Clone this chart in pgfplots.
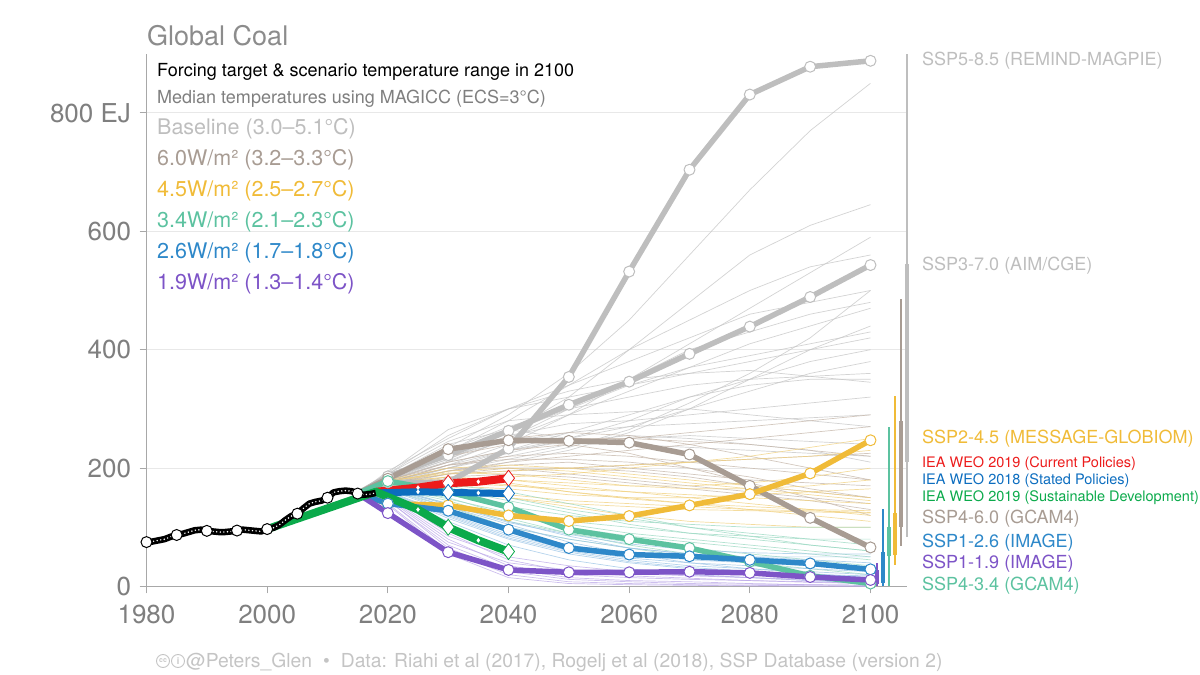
\documentclass[border=0pt]{standalone}
\usepackage{pgfplots}
\usepackage{pgfplotstable}
\pgfplotsset{compat=1.18}
\usepackage{fontspec}
\setmainfont{TeX Gyre Heros}

\definecolor{cgray}{HTML}{BEBEBE}
\definecolor{cbrown}{HTML}{A89C93}
\definecolor{cyellow}{HTML}{F0BB38}
\definecolor{cteal}{HTML}{5CC2A0}
\definecolor{cblue}{HTML}{2E88C9}
\definecolor{cpurple}{HTML}{7D54C7}
\definecolor{ired}{HTML}{EC1B1B}
\definecolor{iblue}{HTML}{0C6DBF}
\definecolor{igreen}{HTML}{0BAA4B}
\definecolor{axgray}{HTML}{A8A8A8}
\definecolor{txgray}{HTML}{7F7F7F}
\definecolor{ftgray}{HTML}{C4C4C4}
\definecolor{bggray}{HTML}{C4C4C4}
\definecolor{bgtan}{HTML}{C4B5A8}
\definecolor{bgyellow}{HTML}{F0D07E}
\definecolor{bgteal}{HTML}{9AD8C2}
\definecolor{bgblue}{HTML}{9CC5E6}
\definecolor{bgpurple}{HTML}{BCA9E8}

% background scenario lines: baseline (grey)
\pgfplotstableread{
year g1 g2 g3 g4 g5 g6 g7 g8 g9 g10 g11 g12 g13 g14 g15 g16 g17 g18 g19 g20 g21 g22
2015 156 155 157 154 156 158 155 154 156 157 155 156 153 157 156 155 156 154 155 157 156 154
2020 188 182 195 175 178 192 185 172 180 190 176 183 170 186 188 178 181 174 184 190 179 176
2030 235 215 250 205 210 265 230 200 215 245 205 220 190 240 225 200 210 195 228 255 212 200
2040 290 260 300 240 250 300 270 230 255 280 230 245 210 265 260 220 230 215 280 300 250 225
2050 360 320 340 290 290 320 300 260 275 290 250 260 230 250 300 240 245 235 340 330 300 250
2060 450 400 380 350 330 340 320 290 280 295 270 270 260 240 350 250 255 265 400 350 340 280
2070 560 480 420 410 370 360 340 320 290 300 300 275 300 235 400 255 250 310 450 360 370 320
2080 670 560 460 470 410 380 350 350 300 290 330 280 350 230 430 250 240 360 500 365 390 340
2090 770 610 480 530 440 400 355 380 310 280 360 285 400 225 460 245 230 420 540 355 410 350
2100 850 645 500 590 470 420 360 400 320 270 380 290 440 220 480 240 210 500 560 345 430 350
}\tblG
% 6.0 W/m2 (tan)
\pgfplotstableread{
year t1 t2 t3 t4 t5 t6 t7 t8 t9 t10 t11 t12
2015 156 155 157 154 156 155 157 154 156 155 156 154
2020 180 176 182 172 178 175 184 170 179 177 180 173
2030 220 205 225 195 200 190 230 185 210 195 205 190
2040 240 220 250 210 200 195 245 190 230 205 215 200
2050 250 225 260 220 190 200 240 185 240 210 215 200
2060 250 220 255 230 180 205 225 175 250 200 210 195
2070 245 210 240 240 170 210 200 165 260 190 200 185
2080 240 200 220 250 160 215 175 155 270 180 185 170
2090 230 190 200 260 150 220 150 145 280 175 165 160
2100 220 180 180 270 140 225 120 130 290 170 150 150
}\tblT
% 4.5 W/m2 (yellow)
\pgfplotstableread{
year y1 y2 y3 y4 y5 y6 y7 y8 y9 y10 y11 y12 y13 y14
2015 155 156 157 154 156 155 156 154 157 155 156 154 155 157
2020 175 170 178 168 180 172 176 165 174 170 177 167 171 179
2030 185 175 190 165 200 180 185 160 182 170 195 163 178 192
2040 180 170 195 155 205 185 175 150 180 165 200 150 172 190
2050 170 165 200 145 200 190 160 140 175 155 195 135 160 180
2060 160 160 205 140 190 200 150 135 170 150 185 120 148 170
2070 150 155 210 135 180 210 140 130 170 150 175 110 140 165
2080 140 150 220 130 170 215 130 128 175 155 165 105 135 165
2090 130 145 235 128 160 220 120 126 185 160 155 100 130 170
2100 120 140 250 125 150 230 110 124 200 165 145 100 128 180
}\tblY
% 3.4 W/m2 (teal)
\pgfplotstableread{
year c1 c2 c3 c4 c5 c6 c7 c8 c9 c10
2015 155 156 154 157 155 156 154 157 155 156
2020 172 168 175 165 170 173 163 176 169 166
2030 160 150 170 140 155 165 135 172 148 145
2040 130 120 150 110 135 145 100 160 125 115
2050 105 100 130 90 120 125 80 140 110 90
2060 90 85 115 75 110 105 65 120 100 70
2070 80 75 100 65 105 90 50 100 90 55
2080 70 65 90 55 100 80 40 85 85 45
2090 60 55 80 45 100 70 30 70 80 35
2100 50 45 70 35 100 60 20 60 80 30
}\tblC
% 2.6 W/m2 (blue)
\pgfplotstableread{
year b1 b2 b3 b4 b5 b6 b7 b8 b9 b10
2015 155 156 154 157 155 156 154 157 155 156
2020 165 160 168 158 163 166 155 167 161 159
2030 130 120 140 115 128 135 110 138 122 118
2040 95 85 110 80 100 105 70 108 88 82
2050 70 60 85 55 80 75 45 88 62 58
2060 55 45 65 40 65 55 30 72 48 42
2070 45 35 55 30 55 40 20 62 40 32
2080 40 30 50 25 50 30 15 57 35 26
2090 35 25 45 20 50 22 10 55 30 20
2100 30 20 40 15 50 15 5 55 25 18
}\tblB
% 1.9 W/m2 (purple)
\pgfplotstableread{
year p1 p2 p3 p4 p5 p6 p7 p8
2015 155 156 154 157 155 156 154 157
2020 150 145 155 140 148 152 138 146
2030 80 70 90 60 75 85 55 65
2040 35 30 45 20 40 50 15 25
2050 20 15 25 8 28 35 5 12
2060 15 10 18 5 22 25 3 8
2070 12 8 14 3 18 20 2 5
2080 10 5 10 2 15 15 1 4
2090 8 3 7 1 12 10 1 3
2100 5 2 5 1 10 8 0 2
}\tblP
% marker scenarios
\pgfplotstableread{
year ssp5 ssp3 ssp460 ssp245 ssp434 ssp126 ssp119
2015 157 157 157 157 157 157 157
2020 176 186 182 140 178 140 124
2030 176 222 232 137 160 128 58
2040 233 263 247 120 134 96 28
2050 354 307 246 110.5 96 65 24
2060 532 346 243 119 80 54 24
2070 704 393 223 137 65 51 25
2080 831 439 170 156 42 45 23
2090 878 489 116 191 18 39 16
2100 888 543 66 247 5 29 11
}\tblSSP
% IEA WEO
\pgfplotstableread{
year cps steps
2018 160 158
2025 167 160
2030 174.5 159
2035 177 158
2040 183 157
}\tblIEA
\pgfplotstableread{
year sds
2000 97
2018 160
2025 130
2030 100
2035 78
2040 59
}\tblSDS
% history
\pgfplotstableread{
year coal
1980 75
1981 76
1982 78
1983 80
1984 84
1985 87
1986 89
1987 92
1988 95
1989 96
1990 94
1991 93
1992 92
1993 92
1994 93
1995 94.5
1996 96
1997 95
1998 94
1999 93
2000 97
2001 99
2002 104
2003 112
2004 119
2005 123
2006 132
2007 140
2008 143
2009 145
2010 150
2011 159
2012 161
2013 162
2014 161
2015 157
2016 155
2017 156
2018 158
}\tblH

\begin{document}
\begin{tikzpicture}
\path[use as bounding box] (0pt,0pt) rectangle (1200pt,675pt);
\begin{axis}[
  at={(146.5pt,88.5pt)}, anchor=south west, scale only axis,
  width=760.2pt, height=532.8pt,
  xmin=1980, xmax=2106, ymin=0, ymax=900,
  axis x line*=bottom, axis y line*=left,
  axis line style={axgray, line width=1.3pt},
  xtick={1980,2000,2020,2040,2060,2080,2100},
  xticklabels={1980,2000,2020,2040,2060,2080,2100},
  ytick={0,200,400,600,800},
  yticklabels={0,200,400,600,800 EJ},
  tick align=outside, major tick length=7pt,
  tick style={axgray, line width=1pt},
  ymajorgrids, grid style={black!9, line width=0.8pt},
  ticklabel style={font=\fontsize{26}{30}\selectfont, text=txgray},
  xticklabel style={yshift=-8pt},
  yticklabel style={xshift=-5pt},
  /pgf/number format/assume math mode=true,
  clip=false,
  bgline/.style={line width=0.7pt, opacity=0.75, line join=round},
  ssp/.style={line width=5.5pt, line join=round, mark=*, mark size=5.5pt,
     mark indices={2,3,4,5,6,7,8,9,10}},
]
% background fans
\pgfplotsinvokeforeach{g1,g2,g3,g4,g5,g6,g7,g8,g9,g10,g11,g12,g13,g14,g15,g16,g17,g18,g19,g20,g21,g22}{
  \addplot[bgline, draw=bggray] table[x=year,y=#1]{\tblG};}
\pgfplotsinvokeforeach{t1,t2,t3,t4,t5,t6,t7,t8,t9,t10,t11,t12}{
  \addplot[bgline, draw=bgtan] table[x=year,y=#1]{\tblT};}
\pgfplotsinvokeforeach{y1,y2,y3,y4,y5,y6,y7,y8,y9,y10,y11,y12,y13,y14}{
  \addplot[bgline, draw=bgyellow] table[x=year,y=#1]{\tblY};}
\pgfplotsinvokeforeach{c1,c2,c3,c4,c5,c6,c7,c8,c9,c10}{
  \addplot[bgline, draw=bgteal] table[x=year,y=#1]{\tblC};}
\pgfplotsinvokeforeach{b1,b2,b3,b4,b5,b6,b7,b8,b9,b10}{
  \addplot[bgline, draw=bgblue] table[x=year,y=#1]{\tblB};}
\pgfplotsinvokeforeach{p1,p2,p3,p4,p5,p6,p7,p8}{
  \addplot[bgline, draw=bgpurple] table[x=year,y=#1]{\tblP};}

% range bars in 2100
\addplot[cpurple, line width=2pt] coordinates {(2101,0) (2101,40)};
\addplot[cpurple, line width=4pt] coordinates {(2101,4) (2101,28)};
\addplot[cblue, line width=2pt] coordinates {(2102,0) (2102,131)};
\addplot[cblue, line width=4pt] coordinates {(2102,6) (2102,59)};
\addplot[cteal, line width=2pt] coordinates {(2103,0) (2103,270)};
\addplot[cteal, line width=4pt] coordinates {(2103,51) (2103,101)};
\addplot[cyellow, line width=2pt] coordinates {(2104,37) (2104,321)};
\addplot[cyellow, line width=4pt] coordinates {(2104,53) (2104,124)};
\addplot[cbrown, line width=2pt] coordinates {(2105,68) (2105,486)};
\addplot[cbrown, line width=4pt] coordinates {(2105,101) (2105,279)};
\addplot[cgray, line width=2pt] coordinates {(2106,84) (2106,900)};
\addplot[cgray, line width=4pt] coordinates {(2106,211) (2106,544)};

% marker scenarios
\addplot[ssp, cgray, mark options={fill=white, draw=cgray, line width=1pt}] table[x=year,y=ssp5]{\tblSSP};
\addplot[ssp, cgray, mark options={fill=white, draw=cgray, line width=1pt}] table[x=year,y=ssp3]{\tblSSP};
\addplot[ssp, cbrown, mark options={fill=white, draw=cbrown, line width=1pt}] table[x=year,y=ssp460]{\tblSSP};
\addplot[ssp, cteal, mark options={fill=white, draw=cteal, line width=1pt}] table[x=year,y=ssp434]{\tblSSP};
\addplot[ssp, cyellow, mark options={fill=white, draw=cyellow, line width=1pt}] table[x=year,y=ssp245]{\tblSSP};
\addplot[ssp, cblue, mark options={fill=white, draw=cblue, line width=1pt}] table[x=year,y=ssp126]{\tblSSP};
\addplot[ssp, cpurple, mark options={fill=white, draw=cpurple, line width=1pt}] table[x=year,y=ssp119]{\tblSSP};

% IEA
\addplot[ired, line width=8pt, line join=round, mark=diamond*, mark size=8pt, mark indices={3,5},
  mark options={fill=white, draw=ired, line width=0.8pt}] table[x=year,y=cps]{\tblIEA};
\addplot[only marks, mark=diamond*, mark size=2pt, mark indices={2,4},
  mark options={fill=white, draw=white}] table[x=year,y=cps]{\tblIEA};
\addplot[iblue, line width=7pt, line join=round, mark=diamond*, mark size=8pt, mark indices={3,5},
  mark options={fill=white, draw=iblue, line width=0.8pt}] table[x=year,y=steps]{\tblIEA};
\addplot[only marks, mark=diamond*, mark size=2pt, mark indices={2,4},
  mark options={fill=white, draw=white}] table[x=year,y=steps]{\tblIEA};
\addplot[igreen, line width=8pt, line join=round, mark=diamond*, mark size=8pt, mark indices={4,6},
  mark options={fill=white, draw=igreen, line width=0.8pt}] table[x=year,y=sds]{\tblSDS};
\addplot[only marks, mark=diamond*, mark size=2pt, mark indices={3,5},
  mark options={fill=white, draw=white}] table[x=year,y=sds]{\tblSDS};

% history
\addplot[black, line width=6.5pt, line join=round] table[x=year,y=coal]{\tblH};
\addplot[white, line width=1.6pt, line cap=round, dash pattern=on 0pt off 3.6pt] table[x=year,y=coal]{\tblH};
\addplot[only marks, mark=*, mark size=5.5pt, mark indices={1,6,11,16,21,26,31,36},
  mark options={fill=white, draw=black, line width=1pt}] table[x=year,y=coal]{\tblH};
\end{axis}

% title and legend text
\node[anchor=base west, inner sep=0, text=txgray!90, font=\fontsize{27}{30}\selectfont] at (147pt,629pt) {Global Coal};
\node[anchor=base west, inner sep=0, text=black, font=\fontsize{18}{21}\selectfont] at (157pt,598pt) {Forcing target \& scenario temperature range in 2100};
\node[anchor=base west, inner sep=0, text=txgray, font=\fontsize{18}{21}\selectfont] at (157pt,571pt) {Median temperatures using MAGICC (ECS=3°C)};
\node[anchor=base west, inner sep=0, text=cgray, font=\fontsize{21.5}{24}\selectfont] at (157pt,540pt) {Baseline (3.0–5.1°C)};
\node[anchor=base west, inner sep=0, text=cbrown, font=\fontsize{21.5}{24}\selectfont] at (157pt,509pt) {6.0W/m² (3.2–3.3°C)};
\node[anchor=base west, inner sep=0, text=cyellow, font=\fontsize{21.5}{24}\selectfont] at (157pt,478pt) {4.5W/m² (2.5–2.7°C)};
\node[anchor=base west, inner sep=0, text=cteal, font=\fontsize{21.5}{24}\selectfont] at (157pt,447pt) {3.4W/m² (2.1–2.3°C)};
\node[anchor=base west, inner sep=0, text=cblue, font=\fontsize{21.5}{24}\selectfont] at (157pt,416pt) {2.6W/m² (1.7–1.8°C)};
\node[anchor=base west, inner sep=0, text=cpurple, font=\fontsize{21.5}{24}\selectfont] at (157pt,385pt) {1.9W/m² (1.3–1.4°C)};

% right labels
\node[anchor=base west, inner sep=0, text=cgray, font=\fontsize{18}{21}\selectfont] at (922pt,609pt) {SSP5-8.5 (REMIND-MAGPIE)};
\node[anchor=base west, inner sep=0, text=cgray, font=\fontsize{18}{21}\selectfont] at (922pt,404pt) {SSP3-7.0 (AIM/CGE)};
\node[anchor=base west, inner sep=0, text=cyellow, font=\fontsize{18}{21}\selectfont] at (922pt,231pt) {SSP2-4.5 (MESSAGE-GLOBIOM)};
\node[anchor=base west, inner sep=0, text=ired, font=\fontsize{14.5}{16}\selectfont] at (922pt,207pt) {IEA WEO 2019 (Current Policies)};
\node[anchor=base west, inner sep=0, text=iblue, font=\fontsize{14.5}{16}\selectfont] at (922pt,190pt) {IEA WEO 2018 (Stated Policies)};
\node[anchor=base west, inner sep=0, text=igreen, font=\fontsize{14.5}{16}\selectfont] at (922pt,173pt) {IEA WEO 2019 (Sustainable Development)};
\node[anchor=base west, inner sep=0, text=cbrown, font=\fontsize{18}{21}\selectfont] at (922pt,151pt) {SSP4-6.0 (GCAM4)};
\node[anchor=base west, inner sep=0, text=cblue, font=\fontsize{18}{21}\selectfont] at (922pt,127pt) {SSP1-2.6 (IMAGE)};
\node[anchor=base west, inner sep=0, text=cpurple, font=\fontsize{18}{21}\selectfont] at (922pt,106pt) {SSP1-1.9 (IMAGE)};
\node[anchor=base west, inner sep=0, text=cteal, font=\fontsize{18}{21}\selectfont] at (922pt,84pt) {SSP4-3.4 (GCAM4)};

% footer
\draw[ftgray, line width=0.9pt] (163pt,14pt) circle (6.5pt);
\node[text=ftgray, inner sep=0, font=\fontsize{7}{8}\selectfont\bfseries] at (163pt,14pt) {cc};
\draw[ftgray, line width=0.9pt] (178pt,14pt) circle (6.5pt);
\node[text=ftgray, inner sep=0, font=\fontsize{9}{10}\selectfont\bfseries] at (178pt,14pt) {i};
\node[anchor=base west, inner sep=0, text=ftgray, font=\fontsize{19.3}{22}\selectfont] at (186pt,8pt) {@Peters\_Glen\hspace{11pt}•\hspace{11pt}Data: Riahi et al (2017), Rogelj et al (2018), SSP Database (version 2)};
\end{tikzpicture}
\end{document}
